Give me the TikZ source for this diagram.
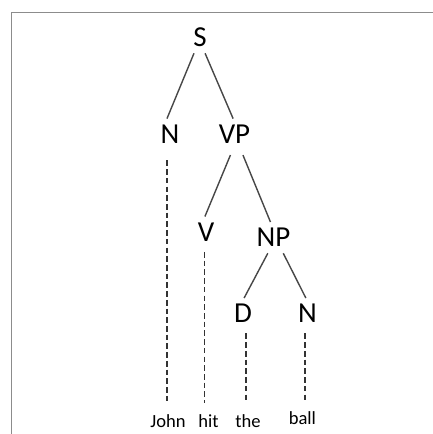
\documentclass[tikz,border=0pt]{standalone}
\usepackage{fontspec}
\setmainfont{Carlito}
\usepackage{tikz}

\begin{document}
\begin{tikzpicture}[
	cat/.style={anchor=base, font=\fontsize{20.6}{24}\selectfont, text height=13.3pt, text depth=0pt, inner sep=0.15cm},
	word/.style={anchor=base, font=\fontsize{13.2}{16}\selectfont, text height=8.5pt, text depth=0pt, inner xsep=0pt, inner ysep=0.3125cm},
	branch/.style={black!72, line width=1pt},
	lex/.style={black!80, line width=1pt, dash pattern=on 4pt off 2.2pt, shorten <=3pt}
]
\useasboundingbox (0,0) rectangle (10.825,10.85);
\draw[black!45, line width=1.1pt] (0.2875,0) -- (0.2875,10.5375) -- (10.825,10.5375);

\node[cat] (S) at (5.0,9.675) {S};
\node[cat] (N1) at (4.25,7.26) {N};
\node[cat] (VP) at (5.8625,7.26) {VP};
\node[cat] (V) at (5.15,4.8125) {V};
\node[cat] (NP) at (6.8375,4.675) {NP};
\node[cat] (D) at (6.075,2.775) {D};
\node[cat] (N2) at (7.6875,2.775) {N};

\node[word] (john) at (4.2,0.16) {John};
\node[word] (hit) at (5.21,0.16) {hit};
\node[word] (the) at (6.2,0.16) {the};
\node[word] (ball) at (7.56,0.225) {ball};

\draw[branch] (S.-111) -- (N1.101);
\draw[branch] (S.-72) -- (VP.95);
\draw[branch, shorten <=4pt] (VP.-97) -- (V.94);
\draw[branch, shorten <=4pt] (VP.-68) -- (NP.101);
\draw[branch] (NP.-110) -- (D.86);
\draw[branch] (NP.-58) -- (N2.96);

\draw[lex, shorten <=7.5pt] (N1.-101) -- (N1.-101 |- john.north);
\draw[lex] (V.-96) -- (V.-96 |- hit.north);
\draw[lex] (D.-79) -- (D.-79 |- the.north);
\draw[lex] (N2.-99) -- (N2.-99 |- ball.north);
\end{tikzpicture}
\end{document}
